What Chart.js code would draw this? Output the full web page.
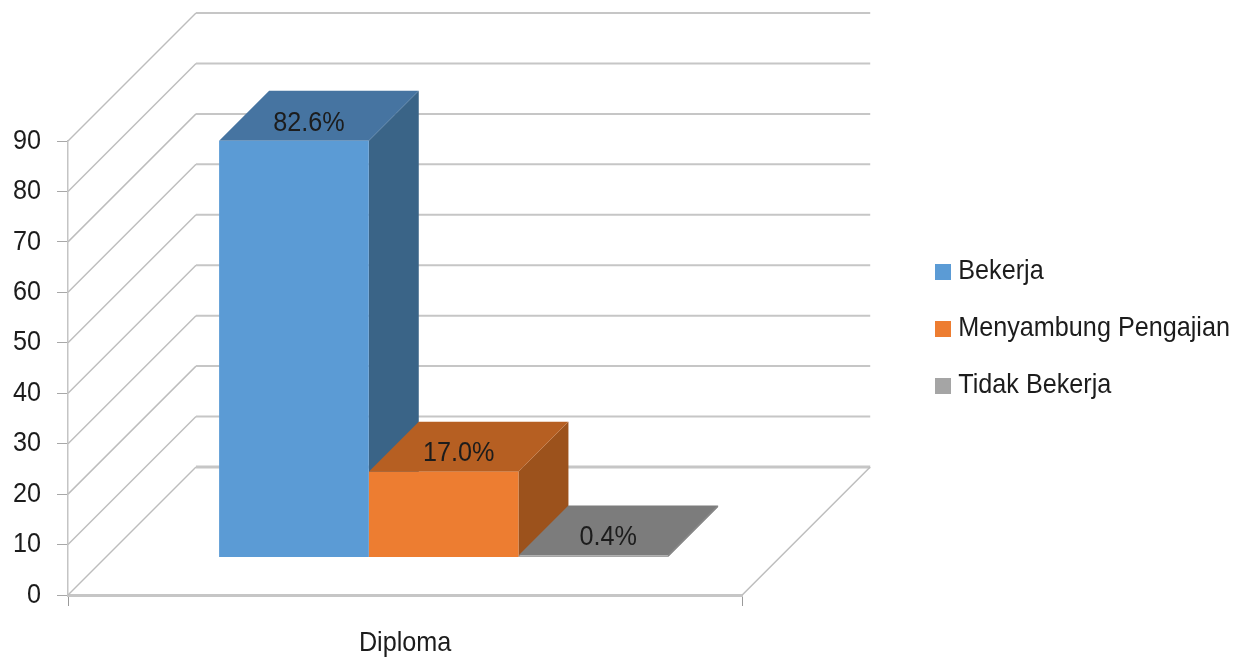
<!DOCTYPE html>
<html>
<head>
<meta charset="utf-8">
<style>html,body{margin:0;padding:0;background:#fff;overflow:hidden}#wrap{width:1243px;height:657px}</style>
<script src="https://cdn.jsdelivr.net/npm/chart.js@4/dist/chart.umd.min.js"></script>
</head>
<body>
<div id="wrap"><canvas id="c" width="1243" height="657"></canvas></div>
<script>
const categories = ["Diploma"];
const seriesNames = ["Bekerja", "Menyambung Pengajian", "Tidak Bekerja"];
const bekerja = [82.6];
const menyambung = [17.0];
const tidakBekerja = [0.4];
const tickStep = 10;
const axisMax = 90;
const frontColors = ["#5B9BD5", "#ED7D31", "#A5A5A5"];
const topColors = ["#4674A1", "#B65F22", "#7C7C7C"];
const sideColors = ["#3A6487", "#9C521C", "#6C6C6C"];

const FONT = '"Liberation Sans",sans-serif';
const TEXT = "#1c1c1c";
const GRID = "#c6c6c6";
const WALL = 128, BAR_DEPTH = 50, DX = 38.5, DY = 37.5, NARROW = 0.9;

const canvas = document.getElementById("c");
const rawCtx = canvas.getContext("2d");
const rawFill = rawCtx.fillText.bind(rawCtx);
const rawMeasure = rawCtx.measureText.bind(rawCtx);
// The reference uses a condensed face: squeeze real text horizontally.
rawCtx.fillText = function (s, x, y) {
  rawCtx.save();
  rawCtx.translate(x, y);
  rawCtx.scale(NARROW, 1);
  rawFill(s, 0, 0);
  rawCtx.restore();
};
rawCtx.measureText = function (s) {
  return { width: rawMeasure(s).width * NARROW };
};

function swatch(color) {
  const s = document.createElement("canvas");
  s.width = 16; s.height = 16;
  const g = s.getContext("2d");
  g.fillStyle = color; g.fillRect(0, 0, 16, 16);
  return s;
}
function poly(ctx, pts, fill) {
  ctx.beginPath();
  pts.forEach((p, i) => i ? ctx.lineTo(p[0], p[1]) : ctx.moveTo(p[0], p[1]));
  ctx.closePath();
  ctx.fillStyle = fill;
  ctx.fill();
}
const scene3d = {
  id: "scene3d",
  beforeDatasetsDraw(chart) {
    const { ctx, chartArea: a, scales: { y } } = chart;
    ctx.save();
    y.ticks.forEach(t => {
      const py = y.getPixelForValue(t.value);
      const isFloor = t.value === 0;
      ctx.strokeStyle = "#bdbdbd";
      ctx.lineWidth = 1.5;
      ctx.beginPath();
      ctx.moveTo(a.left, py);
      ctx.lineTo(a.left + WALL, py - WALL);
      ctx.stroke();
      ctx.strokeStyle = GRID;
      ctx.lineWidth = isFloor ? 3 : 2;
      ctx.beginPath();
      ctx.moveTo(a.left + WALL, py - WALL);
      ctx.lineTo(a.right + WALL, py - WALL);
      ctx.stroke();
      if (isFloor) {
        ctx.strokeStyle = "#bdbdbd";
        ctx.lineWidth = 1.5;
        ctx.beginPath();
        ctx.moveTo(a.right + WALL, py - WALL);
        ctx.lineTo(a.right, py);
        ctx.stroke();
      }
    });
    chart.data.datasets.forEach((ds, i) => {
      const b = chart.getDatasetMeta(i).data[0];
      const l = b.x - b.width / 2 + DX, r = b.x + b.width / 2 + DX;
      const t = b.y - DY, base = b.base - DY, d = BAR_DEPTH;
      poly(ctx, [[r, t], [r + d, t - d], [r + d, base - d], [r, base]], sideColors[i]);
      poly(ctx, [[l, t], [r, t], [r + d, t - d], [l + d, t - d]], topColors[i]);
    });
    ctx.restore();
  },
  beforeDatasetDraw(chart) {
    chart.ctx.save();
    chart.ctx.translate(DX, -DY);
  },
  afterDatasetDraw(chart) {
    chart.ctx.restore();
  },
  afterDatasetsDraw(chart) {
    const { ctx } = chart;
    ctx.save();
    ctx.font = "28px " + FONT;
    ctx.fillStyle = TEXT;
    ctx.textAlign = "center";
    ctx.textBaseline = "middle";
    chart.data.datasets.forEach((ds, i) => {
      const b = chart.getDatasetMeta(i).data[0];
      ctx.fillText(ds.data[0].toFixed(1) + "%", b.x + DX + 15, b.y - DY - 18);
    });
    ctx.restore();
  }
};
const allSeries = [bekerja, menyambung, tidakBekerja];
new Chart(canvas, {
  type: "bar",
  plugins: [scene3d],
  data: {
    labels: categories,
    datasets: seriesNames.map((name, i) => ({
      label: name,
      data: allSeries[i],
      backgroundColor: frontColors[i],
      borderWidth: 0,
      clip: false,
      categoryPercentage: 0.666,
      barPercentage: 1
    }))
  },
  options: {
    responsive: false,
    animation: false,
    layout: { padding: { left: 0, top: 0, bottom: 0, right: 3 } },
    plugins: {
      tooltip: { enabled: false },
      legend: {
        position: "right",
        maxWidth: 330,
        labels: {
          font: { family: FONT, size: 28 },
          color: TEXT,
          padding: 29,
          boxHeight: 16,
          usePointStyle: true,
          pointStyleWidth: 2,
          generateLabels(chart) {
            return chart.data.datasets.map((ds, i) => ({
              text: ds.label,
              fontColor: TEXT,
              pointStyle: swatch(frontColors[i]),
              datasetIndex: i,
              lineWidth: 0
            }));
          }
        }
      }
    },
    scales: {
      x: {
        grid: { offset: true, drawOnChartArea: false, color: "#9a9a9a", tickLength: 11 },
        border: { display: true, color: GRID, width: 3 },
        ticks: { font: { family: FONT, size: 28 }, color: TEXT, padding: 20 },
        afterFit(s) { s.height = 62; }
      },
      y: {
        min: 0,
        max: axisMax,
        grid: { drawOnChartArea: false, color: "#a8a8a8", tickLength: 11 },
        border: { display: true, color: "#c4c4c4", width: 1.5 },
        ticks: { stepSize: tickStep, font: { family: FONT, size: 28 }, color: TEXT, padding: 16 },
        afterFit(s) { s.width = 68; }
      },
      legendGap: {
        type: "linear",
        position: "right",
        display: true,
        grid: { display: false },
        border: { display: false },
        ticks: { display: false },
        afterFit(s) { s.width = 171; }
      },
      topGap: {
        type: "linear",
        position: "top",
        display: true,
        grid: { display: false },
        border: { display: false },
        ticks: { display: false },
        afterFit(s) { s.height = 141; }
      }
    }
  }
});
</script>
</body>
</html>
